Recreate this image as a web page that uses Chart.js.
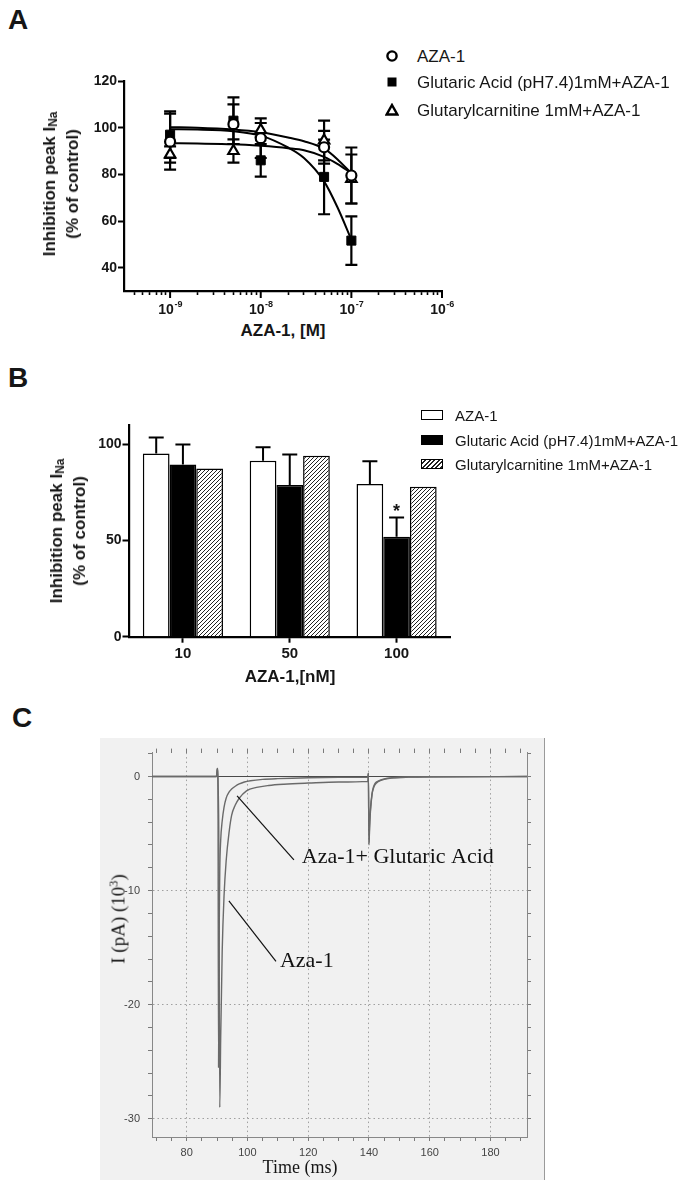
<!DOCTYPE html>
<html>
<head>
<meta charset="utf-8">
<title>AZA-1 and INa</title>
<script src="https://cdn.jsdelivr.net/npm/chart.js@4.4.1/dist/chart.umd.min.js"></script>
<style>
  html, body { margin: 0; padding: 0; background: #fff; }
  #page { position: relative; width: 685px; height: 1190px; overflow: hidden;
          font-family: "Liberation Sans", Arial, sans-serif; color: #161616; }
  canvas { position: absolute; }
  .panel { position: absolute; font-weight: bold; font-size: 28px; line-height: 28px; transform: translate(-50%, -50%); }
  .ytitle { position: absolute; transform: translate(-50%, -50%) rotate(-90deg); white-space: nowrap;
            text-align: center; font-weight: bold; font-size: 17px; line-height: 23px; }
  .xtitle { position: absolute; transform: translate(-50%, -50%); white-space: nowrap; font-weight: bold; font-size: 17px; }
  .ytitle sub { font-size: 70%; vertical-align: -2px; line-height: 0; }
  .serif { font-family: "Liberation Serif", "Times New Roman", serif; font-weight: normal; }
  .serif sup { font-size: 65%; vertical-align: 7px; line-height: 0; }
  .leg { position: absolute; white-space: nowrap; transform: translateY(-50%); }
  #frameC { position: absolute; left: 100px; top: 738px; width: 444px; height: 442px;
            background: #f1f1f1; border-right: 1px solid #9a9a9a; }
</style>
</head>
<body>
<div id="page">
  <div class="panel" style="left:18px; top:20px;">A</div>
  <div class="panel" style="left:18px; top:378px;">B</div>
  <div class="panel" style="left:22px; top:718px;">C</div>

  <canvas id="chartA" width="380" height="250" style="left:80px; top:70px;"></canvas>
  <div class="ytitle" style="left:61px; top:184px;">Inhibition peak I<sub>Na</sub><br>(% of control)</div>
  <div class="xtitle" style="left:283px; top:331px;">AZA-1, [M]</div>
  <div id="legendA"></div>

  <canvas id="chartB" width="390" height="255" style="left:80px; top:415px;"></canvas>
  <div class="ytitle" style="left:68px; top:531px;">Inhibition peak I<sub>Na</sub><br>(% of control)</div>
  <div class="xtitle" style="left:290px; top:677px;">AZA-1,[nM]</div>
  <div id="legendB"></div>

  <div id="frameC"></div>
  <canvas id="chartC" width="445" height="442" style="left:100px; top:738px;"></canvas>
  <div class="ytitle serif" style="left:118px; top:919px; font-size:19px;">I (pA) (10<sup>3</sup>)</div>
  <div class="xtitle serif" style="left:300px; top:1167px; font-size:18px;">Time (ms)</div>
</div>

<script>
const FONT = "'Liberation Sans', Arial, sans-serif";
const SERIF = "'Liberation Serif', 'Times New Roman', serif";

const seriesNames = ['AZA-1', 'Glutaric Acid (pH7.4)1mM+AZA-1', 'Glutarylcarnitine 1mM+AZA-1'];

// Panel A - concentration/response, mean and SEM
const concA = [1e-9, 5e-9, 1e-8, 5e-8, 1e-7];
const azaMean = [94, 101.5, 95.5, 91.6, 79.5];
const azaSem = [12, 8.5, 8.5, 7, 12];
const glutaricMean = [97, 103, 86, 78.9, 51.6];
const glutaricSem = [10, 10, 7, 16, 10.4];
const carnitineMean = [88.5, 90, 99, 94.5, 78];
const carnitineSem = [3.5, 5, 3, 8.5, 10.5];

// fitted curves
const fitConc = [1e-9, 2e-9, 5e-9, 1e-8, 2e-8, 3e-8, 5e-8, 7e-8, 1e-7];
const azaFit = [100.2, 100.0, 99.2, 98.0, 95.8, 94.2, 91.0, 86.5, 80.4];
const glutaricFit = [99.3, 99.2, 98.5, 96.6, 91.5, 87.0, 77.0, 66.0, 52.0];
const carnitineFit = [93.3, 93.2, 92.9, 92.2, 91.2, 90.3, 87.5, 84.5, 80.5];

const yTicksA = [40, 60, 80, 100, 120];
const xDecadesA = [1e-9, 1e-8, 1e-7, 1e-6];
const xExponentsA = ['-9', '-8', '-7', '-6'];

// Panel B - bars at 10, 50, 100 nM
const doses = ['10', '50', '100'];
const azaBar = [95.2, 91.4, 79.3];
const azaBarSem = [8.3, 7.1, 11.9];
const glutaricBar = [89.5, 78.8, 51.9];
const glutaricBarSem = [10.4, 15.9, 10.1];
const carnitineBar = [87.4, 94.0, 77.9];
const glutaricStars = ['', '', '*'];
const yTicksB = [0, 50, 100];

// Panel C - current traces, time (ms) and current (10^3 pA)
const timeAza = [68.6, 89.8, 90.1, 90.3, 90.6, 90.9, 91.2, 91.7, 92.3, 93.0, 94.0, 94.8, 96.0, 97.3, 99.7,
  103, 107, 112, 120, 130, 139.6, 139.8, 140.0, 140.2, 140.5, 141.0, 141.5, 142.0, 143.0, 145.0, 148.0, 153.0, 160.0, 192];
const currentAza = [0, 0, 0.7, -0.3, -6, -29, -23, -15.3, -10.5, -7.4, -4.8, -3.4, -2.5, -1.9, -1.25,
  -0.95, -0.78, -0.67, -0.57, -0.48, -0.42, 0.3, -6, -4.5, -3, -1.6, -1.0, -0.7, -0.45, -0.25, -0.12, -0.05, -0.02, 0];
const timeGlut = [68.6, 89.8, 90.1, 90.3, 90.5, 90.7, 90.9, 91.2, 91.7, 92.3, 93.0, 94.0, 94.8, 96.0, 97.3,
  99, 101, 105, 110, 120, 130, 139.6, 139.8, 140.0, 140.2, 140.5, 141.0, 141.5, 142, 143, 145, 148, 153, 192];
const currentGlut = [0, 0, 0.7, -0.3, -25.5, -14, -8.3, -5.6, -3.9, -2.7, -1.9, -1.35, -1.1, -0.85, -0.65,
  -0.48, -0.37, -0.25, -0.18, -0.1, -0.07, -0.05, 0.3, -5.8, -4.3, -2.8, -1.5, -0.9, -0.6, -0.4, -0.2, -0.1, -0.04, 0];
const traceNotes = ['Aza-1+ Glutaric Acid', 'Aza-1'];

function pts(xs, ys) {
  return xs.map((x, i) => ({x: x, y: ys[i]}));
}

// ---------- legends (html) ----------
function svgMarker(kind) {
  if (kind === 'circle') return '<svg width="14" height="14"><circle cx="7" cy="7" r="4.6" fill="#fff" stroke="#000" stroke-width="2.4"/></svg>';
  if (kind === 'rect') return '<svg width="14" height="14"><rect x="2.5" y="2.5" width="9" height="9" fill="#000"/></svg>';
  return '<svg width="14" height="14"><polygon points="7,2 12.3,11.5 1.7,11.5" fill="#fff" stroke="#000" stroke-width="2.4" stroke-linejoin="miter"/></svg>';
}
const legendA = document.getElementById('legendA');
const markersA = ['circle', 'rect', 'triangle'];
const rowsA = [57, 83, 111];
seriesNames.forEach((name, i) => {
  legendA.insertAdjacentHTML('beforeend',
    '<div class="leg" style="left:385px; top:' + rowsA[i] + 'px; line-height:14px;">' + svgMarker(markersA[i]) + '</div>' +
    '<div class="leg" style="left:417px; top:' + rowsA[i] + 'px; font-size:17px;">' + name + '</div>');
});
const legendB = document.getElementById('legendB');
const boxesB = [
  'background:#fff; border:1.5px solid #000;',
  'background:#000; border:1.5px solid #000;',
  'background:repeating-linear-gradient(135deg, #fff 0 2px, #222 2px 3.2px); border:1.5px solid #000;'
];
const rowsB = [415, 440, 464];
seriesNames.forEach((name, i) => {
  legendB.insertAdjacentHTML('beforeend',
    '<div class="leg" style="left:421px; top:' + rowsB[i] + 'px; width:20px; height:8px; ' + boxesB[i] + '"></div>' +
    '<div class="leg" style="left:455px; top:' + rowsB[i] + 'px; font-size:15px;">' + name + '</div>');
});

// ---------- Panel A ----------
const xTicksA = [];
[1e-10, 1e-9, 1e-8, 1e-7].forEach(d => {
  for (let k = 2; k <= 9; k++) {
    const v = d * k;
    if (v >= 3.1e-10) xTicksA.push(v);
  }
});

const errorBarsA = {
  id: 'errorBarsA',
  beforeDatasetsDraw(chart) {
    const {ctx, scales: {x, y}} = chart;
    ctx.save();
    ctx.strokeStyle = '#000';
    ctx.lineWidth = 2.2;
    chart.data.datasets.forEach(ds => {
      if (!ds.sem) return;
      ds.data.forEach((p, i) => {
        const px = x.getPixelForValue(p.x);
        const top = y.getPixelForValue(p.y + ds.sem[i]);
        const bot = y.getPixelForValue(p.y - ds.sem[i]);
        ctx.beginPath();
        ctx.moveTo(px, top); ctx.lineTo(px, bot);
        ctx.moveTo(px - 6, top); ctx.lineTo(px + 6, top);
        ctx.moveTo(px - 6, bot); ctx.lineTo(px + 6, bot);
        ctx.stroke();
      });
    });
    ctx.restore();
  }
};

// 10^n labels with a raised exponent, plus the longer decade ticks
const powerLabelsA = {
  id: 'powerLabelsA',
  afterDraw(chart) {
    const {ctx, chartArea, scales: {x}} = chart;
    ctx.save();
    ctx.fillStyle = '#161616';
    ctx.strokeStyle = '#000';
    ctx.lineWidth = 2;
    xDecadesA.forEach((v, i) => {
      const px = x.getPixelForValue(v);
      ctx.beginPath();
      ctx.moveTo(px, chartArea.bottom);
      ctx.lineTo(px, chartArea.bottom + 7);
      ctx.stroke();
      ctx.font = 'bold 14px ' + FONT;
      const wb = ctx.measureText('10').width;
      ctx.font = 'bold 9px ' + FONT;
      const we = ctx.measureText(xExponentsA[i]).width;
      const sx = px - (wb + we) / 2;
      ctx.font = 'bold 14px ' + FONT;
      ctx.fillText('10', sx, chartArea.bottom + 23);
      ctx.font = 'bold 9px ' + FONT;
      ctx.fillText(xExponentsA[i], sx + wb + 0.5, chartArea.bottom + 16);
    });
    ctx.restore();
  }
};

const curveStyle = {showLine: true, pointRadius: 0, borderColor: '#000', borderWidth: 2, cubicInterpolationMode: 'monotone'};

new Chart(document.getElementById('chartA'), {
  type: 'scatter',
  data: {
    datasets: [
      {label: seriesNames[0], data: pts(concA, azaMean), sem: azaSem, pointStyle: 'circle', pointRadius: 5,
       pointBorderWidth: 2.2, pointBackgroundColor: '#fff', pointBorderColor: '#000'},
      {label: seriesNames[1], data: pts(concA, glutaricMean), sem: glutaricSem, pointStyle: 'rect', pointRadius: 6.4,
       pointBorderWidth: 1, pointBackgroundColor: '#000', pointBorderColor: '#000'},
      {label: seriesNames[2], data: pts(concA, carnitineMean), sem: carnitineSem, pointStyle: 'triangle', pointRadius: 6,
       pointBorderWidth: 2.2, pointBackgroundColor: '#fff', pointBorderColor: '#000'},
      Object.assign({label: 'fit AZA-1', data: pts(fitConc, azaFit)}, curveStyle),
      Object.assign({label: 'fit Glutaric', data: pts(fitConc, glutaricFit)}, curveStyle),
      Object.assign({label: 'fit Glutarylcarnitine', data: pts(fitConc, carnitineFit)}, curveStyle)
    ]
  },
  options: {
    responsive: false,
    animation: false,
    devicePixelRatio: 1,
    layout: {padding: {top: 11, right: 18, left: 0, bottom: 0}},
    plugins: {legend: {display: false}, tooltip: {enabled: false}},
    scales: {
      x: {
        type: 'logarithmic', min: 3.1e-10, max: 1e-6,
        afterFit: s => { s.height = 29; },
        afterBuildTicks: s => { s.ticks = xTicksA.map(v => ({value: v})); },
        ticks: {display: false},
        grid: {drawOnChartArea: false, tickLength: 4, tickWidth: 1.6, tickColor: '#000'},
        border: {color: '#000', width: 2.2}
      },
      y: {
        min: 30, max: 120,
        afterFit: s => { s.width = 44; },
        afterBuildTicks: s => { s.ticks = yTicksA.map(v => ({value: v})); },
        ticks: {font: {family: FONT, size: 14, weight: 'bold'}, color: '#161616', padding: 1},
        grid: {drawOnChartArea: false, tickLength: 6, tickWidth: 2, tickColor: '#000'},
        border: {color: '#000', width: 2.2}
      }
    }
  },
  plugins: [errorBarsA, powerLabelsA]
});

// ---------- Panel B ----------
function hatch() {
  const c = document.createElement('canvas');
  c.width = 4; c.height = 4;
  const g = c.getContext('2d');
  g.fillStyle = '#fff';
  g.fillRect(0, 0, 4, 4);
  g.strokeStyle = '#222';
  g.lineWidth = 1;
  g.beginPath();
  g.moveTo(0, 4); g.lineTo(4, 0);
  g.moveTo(-1, 1); g.lineTo(1, -1);
  g.moveTo(3, 5); g.lineTo(5, 3);
  g.stroke();
  return g.createPattern(c, 'repeat');
}

const errorBarsB = {
  id: 'errorBarsB',
  afterDatasetsDraw(chart) {
    const {ctx, scales: {y}} = chart;
    ctx.save();
    ctx.strokeStyle = '#000';
    ctx.fillStyle = '#161616';
    ctx.lineWidth = 2;
    chart.data.datasets.forEach((ds, di) => {
      if (!ds.sem) return;
      const meta = chart.getDatasetMeta(di);
      ds.data.forEach((v, i) => {
        const px = meta.data[i].x;
        const base = y.getPixelForValue(v);
        const top = y.getPixelForValue(v + ds.sem[i]);
        ctx.beginPath();
        ctx.moveTo(px, base); ctx.lineTo(px, top);
        ctx.moveTo(px - 7.5, top); ctx.lineTo(px + 7.5, top);
        ctx.stroke();
        if (ds.stars && ds.stars[i]) {
          ctx.font = 'bold 18px ' + FONT;
          ctx.textAlign = 'center';
          ctx.textBaseline = 'alphabetic';
          ctx.fillText(ds.stars[i], px, top);
        }
      });
    });
    ctx.restore();
  }
};

new Chart(document.getElementById('chartB'), {
  type: 'bar',
  data: {
    labels: doses,
    datasets: [
      {label: seriesNames[0], data: azaBar, sem: azaBarSem, backgroundColor: '#fff', borderColor: '#000', borderWidth: 1.5},
      {label: seriesNames[1], data: glutaricBar, sem: glutaricBarSem, stars: glutaricStars, backgroundColor: '#000', borderColor: '#000', borderWidth: 1.5},
      {label: seriesNames[2], data: carnitineBar, backgroundColor: hatch(), borderColor: '#000', borderWidth: 1.5}
    ]
  },
  options: {
    responsive: false,
    animation: false,
    devicePixelRatio: 1,
    categoryPercentage: 0.75,
    barPercentage: 1.0,
    layout: {padding: {top: 10, right: 20, left: 0, bottom: 0}},
    plugins: {legend: {display: false}, tooltip: {enabled: false}},
    scales: {
      x: {
        afterFit: s => { s.height = 33.3; },
        ticks: {font: {family: FONT, size: 15, weight: 'bold'}, color: '#161616', padding: 2},
        grid: {drawOnChartArea: false, offset: false, tickLength: 6, tickWidth: 2, tickColor: '#000'},
        border: {color: '#000', width: 2.2}
      },
      y: {
        min: 0, max: 110,
        afterFit: s => { s.width = 49.5; },
        afterBuildTicks: s => { s.ticks = yTicksB.map(v => ({value: v})); },
        ticks: {font: {family: FONT, size: 14, weight: 'bold'}, color: '#161616', padding: 1},
        grid: {drawOnChartArea: false, tickLength: 7, tickWidth: 2, tickColor: '#000'},
        border: {color: '#000', width: 2.2}
      }
    }
  },
  plugins: [errorBarsB]
});

// ---------- Panel C ----------
const tracesNotes = {
  id: 'tracesNotes',
  afterDatasetsDraw(chart, args, opts) {
    const {ctx, scales: {x, y}} = chart;
    ctx.save();
    ctx.strokeStyle = '#111';
    ctx.lineWidth = 1.2;
    ctx.fillStyle = '#111';
    ctx.font = '22px ' + SERIF;
    ctx.textBaseline = 'middle';
    opts.notes.forEach(n => {
      ctx.beginPath();
      ctx.moveTo(x.getPixelForValue(n.from[0]), y.getPixelForValue(n.from[1]));
      ctx.lineTo(x.getPixelForValue(n.to[0]), y.getPixelForValue(n.to[1]));
      ctx.stroke();
      ctx.fillText(n.text, x.getPixelForValue(n.at[0]), y.getPixelForValue(n.at[1]));
    });
    ctx.restore();
  }
};

const traceStyle = {borderColor: '#6a6a6a', borderWidth: 1.4, pointRadius: 0, cubicInterpolationMode: 'monotone'};
const tickFontC = {family: FONT, size: 11};

new Chart(document.getElementById('chartC'), {
  type: 'line',
  data: {
    datasets: [
      Object.assign({label: traceNotes[1], data: pts(timeAza, currentAza)}, traceStyle),
      Object.assign({label: traceNotes[0], data: pts(timeGlut, currentGlut)}, traceStyle)
    ]
  },
  options: {
    responsive: false,
    animation: false,
    devicePixelRatio: 1,
    layout: {padding: 0},
    plugins: {
      legend: {display: false},
      tooltip: {enabled: false},
      tracesNotes: {
        notes: [
          {text: traceNotes[0], at: [117.9, -7.1], from: [96.6, -1.7], to: [115.3, -7.3]},
          {text: traceNotes[1], at: [110.7, -16.2], from: [93.9, -10.9], to: [109.4, -16.2]}
        ]
      }
    },
    scales: {
      x: {
        type: 'linear', min: 68.6, max: 192,
        afterFit: s => { s.height = 43; },
        ticks: {stepSize: 5, includeBounds: false, autoSkip: false, maxRotation: 0, font: tickFontC, color: '#444', padding: 5,
                callback: v => (v % 20 === 0 ? String(v) : '')},
        grid: {color: c => (c.tick && c.tick.value % 20 === 0 ? '#a0a0a0' : 'rgba(0,0,0,0)'),
               tickLength: 4, tickColor: '#7a7a7a', tickWidth: 1},
        border: {color: '#888', width: 1, dash: [1.5, 3]}
      },
      x2: {
        type: 'linear', position: 'top', min: 68.6, max: 192,
        afterFit: s => { s.height = 6; },
        ticks: {display: false, stepSize: 5, includeBounds: false},
        grid: {drawOnChartArea: false, tickLength: 4, tickColor: '#7a7a7a'},
        border: {display: false}
      },
      y: {
        min: -31.6, max: 2.1,
        afterFit: s => { s.width = 52; },
        ticks: {stepSize: 2, includeBounds: false, autoSkip: false, font: tickFontC, color: '#444', padding: 8,
                callback: v => (v % 10 === 0 ? String(v) : '')},
        grid: {color: c => {
                 if (!c.tick) return 'rgba(0,0,0,0)';
                 if (c.tick.value === 0) return '#4a4a4a';
                 return c.tick.value % 10 === 0 ? '#a0a0a0' : 'rgba(0,0,0,0)';
               },
               tickLength: 4, tickColor: '#7a7a7a', tickWidth: 1},
        border: {color: '#888', width: 1, dash: c => (c.tick && c.tick.value === 0 ? [] : [1.5, 3])}
      },
      y2: {
        position: 'right', min: -31.6, max: 2.1,
        afterFit: s => { s.width = 18; },
        ticks: {display: false, stepSize: 2, includeBounds: false},
        grid: {drawOnChartArea: false, tickLength: 4, tickColor: '#7a7a7a'},
        border: {color: '#888', width: 1}
      }
    }
  },
  plugins: [tracesNotes]
});
</script>
</body>
</html>
